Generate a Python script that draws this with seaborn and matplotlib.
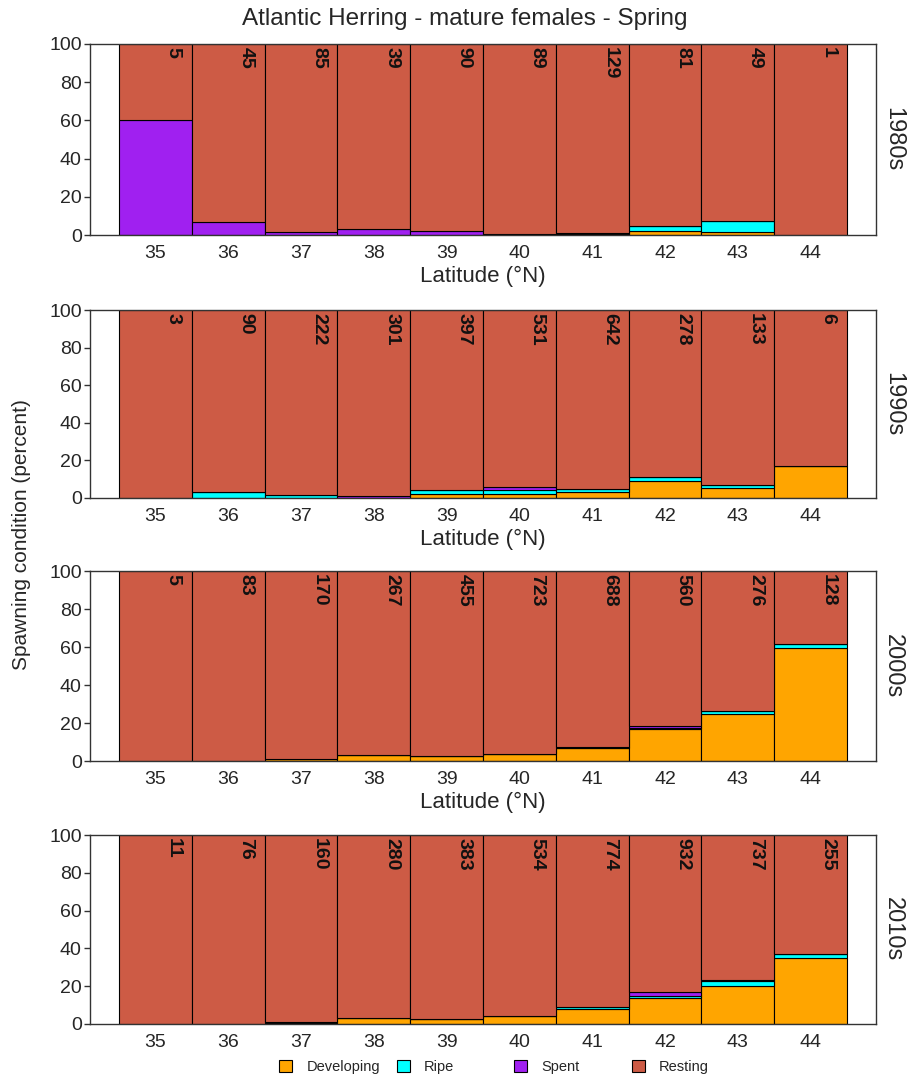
import numpy as np
import pandas as pd
import matplotlib
matplotlib.use("Agg")
import matplotlib.pyplot as plt
from matplotlib.patches import Patch
import seaborn as sns

latitudes = [35, 36, 37, 38, 39, 40, 41, 42, 43, 44]
decades = ["1980s", "1990s", "2000s", "2010s"]
stages = ["Developing", "Ripe", "Spent", "Resting"]

# percent of mature females per stage, one row per decade
developing = [
    [0, 0, 0, 0, 0, 0, 0, 2.0, 1.5, 0],
    [0, 0, 0, 0, 2.0, 2.0, 3.0, 9.0, 5.5, 17.0],
    [0, 0, 1.2, 3.2, 2.5, 3.9, 6.6, 17.0, 24.5, 59.5],
    [0, 0, 0.3, 3.4, 2.7, 4.1, 8.0, 14.0, 20.0, 35.0],
]
ripe = [
    [0, 0, 0, 0, 0, 0, 0.3, 2.5, 6.0, 0],
    [0, 3.2, 1.8, 0, 2.0, 2.0, 1.8, 2.0, 1.5, 0],
    [0, 0, 0, 0, 0, 0, 0, 0.5, 1.7, 2.0],
    [0, 0, 0, 0, 0, 0, 0.8, 0.8, 3.0, 2.0],
]
spent = [
    [60.0, 7.0, 1.5, 3.0, 2.0, 0.5, 0.7, 0, 0, 0],
    [0, 0, 0, 0.8, 0, 2.0, 0, 0, 0, 0],
    [0, 0, 0, 0, 0, 0, 0.8, 0.8, 0.3, 0],
    [0, 0, 0.7, 0, 0, 0, 0, 2.0, 0.5, 0],
]
# number of fish sampled
n_fish = [
    [5, 45, 85, 39, 90, 89, 129, 81, 49, 1],
    [3, 90, 222, 301, 397, 531, 642, 278, 133, 6],
    [5, 83, 170, 267, 455, 723, 688, 560, 276, 128],
    [11, 76, 160, 280, 383, 534, 774, 932, 737, 255],
]

colors = {"Developing": "#FFA500", "Ripe": "#00FFFF", "Spent": "#A020F0", "Resting": "#CD5B45"}

rows = []
for d, dec in enumerate(decades):
    for i, lat in enumerate(latitudes):
        rest = 100 - developing[d][i] - ripe[d][i] - spent[d][i]
        for st, v in zip(stages, [developing[d][i], ripe[d][i], spent[d][i], rest]):
            rows.append({"decade": dec, "lat": lat, "stage": st, "pct": v})
df = pd.DataFrame(rows)

sns.set_theme(style="white")
plt.rcParams["font.family"] = ["Liberation Sans", "DejaVu Sans"]

fig = plt.figure(figsize=(9.08, 10.8), dpi=100)
W, H = 908, 1080
tops = [44, 310, 571, 835]
bottoms = [235, 498, 761, 1024]
left, right = 90, 876

for d, dec in enumerate(decades):
    ax = fig.add_axes([left / W, 1 - bottoms[d] / H, (right - left) / W, (bottoms[d] - tops[d]) / H])
    sub = df[df.decade == dec]
    # seaborn stacks the first hue level on top, so reverse the order
    sns.histplot(data=sub, x="lat", weights="pct", hue="stage",
                 hue_order=stages[::-1], palette=colors, multiple="stack",
                 discrete=True, edgecolor="black", linewidth=0.8, alpha=1,
                 legend=False, ax=ax)
    ax.set_xlim(34.1, 44.9)
    ax.set_ylim(0, 100)
    ax.set_yticks([0, 20, 40, 60, 80, 100])
    ax.set_xticks(latitudes)
    ax.set_xticklabels([str(l) for l in latitudes],
                       family=["Liberation Sans Narrow", "Liberation Sans"], fontsize=14)
    ax.tick_params(axis="y", labelsize=14, length=4, width=1, color="#333333",
                   left=True, pad=2)
    ax.tick_params(axis="x", length=0, pad=7)
    for sp in ax.spines.values():
        sp.set_color("#333333")
        sp.set_linewidth(1.0)
    ax.set_ylabel("")
    if d < 3:
        ax.set_xlabel("Latitude (°N)", fontsize=16, labelpad=3)
    else:
        ax.set_xlabel("")
    for i, lat in enumerate(latitudes):
        ax.text(lat + 0.36, 98.4, str(n_fish[d][i]), rotation=-90, ha="right",
                va="top", fontsize=14, fontweight="bold", color="#111111")
    ax.text(1.022, 0.5, dec, transform=ax.transAxes, rotation=-90, ha="center",
            va="center", fontsize=17)

fig.text(465 / W, 1 - 19 / H, "Atlantic Herring - mature females - Spring",
         ha="center", va="center", fontsize=17.5)
fig.text(22 / W, 1 - 535 / H, "Spawning condition (percent)", rotation=90,
         ha="center", va="center", fontsize=15)

# legend keys sit in equal-width columns
for k, s in enumerate(stages):
    h = Patch(facecolor=colors[s], edgecolor="black", linewidth=0.8)
    fig.legend([h], [s], loc="center left",
               bbox_to_anchor=((279 + 117.5 * k) / W, 1 - 1067 / H),
               frameon=False, fontsize=10.5, handlelength=0.9, handleheight=0.9,
               handletextpad=1.0, borderpad=0, borderaxespad=0)

fig.savefig("out.png", dpi=100)
